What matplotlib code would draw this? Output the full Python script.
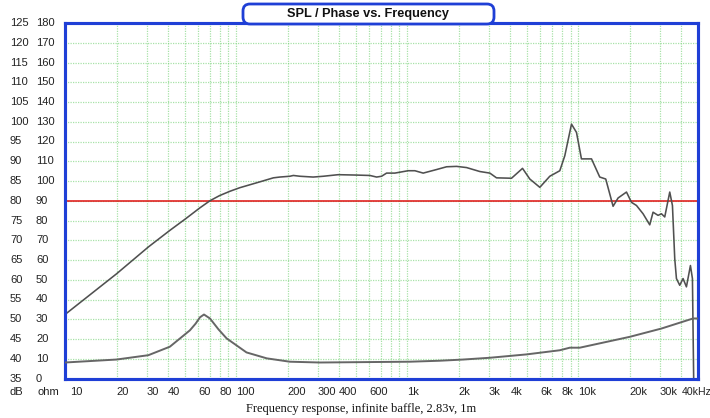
import matplotlib
matplotlib.use("Agg")
import matplotlib.pyplot as plt
import matplotlib.transforms as mtransforms
from matplotlib.patches import FancyBboxPatch

# ---------------- data ----------------
spl_freq = [10, 20, 30.7, 41, 50.9, 61.4, 70.3, 80, 92, 105, 138,
            165, 180, 206, 216, 236, 282, 323, 395, 506, 605,
            662, 708, 757, 846, 1012, 1108, 1239, 1483, 1697, 1941,
            2221, 2655, 3038, 3323, 4067, 4716, 5201, 5951, 6806, 7788,
            8330, 9115, 9748, 10420, 11930, 13330, 14450, 15950, 17060, 19100,
            20430, 21850, 23880, 26120, 27310, 29210, 30580, 31960, 34190, 35450,
            36570, 37410, 39110, 40890, 42790, 45160, 46390, 47200]
spl_db = [51.2, 61.5, 68.3, 72.5, 75.5, 78.2, 80.0, 81.3, 82.4, 83.3, 84.8,
          85.8, 86.0, 86.2, 86.4, 86.2, 86.0, 86.2, 86.6, 86.5, 86.4,
          86.0, 86.2, 87.0, 87.0, 87.6, 87.6, 87.0, 87.9, 88.6, 88.7,
          88.4, 87.4, 87.0, 85.8, 85.7, 88.2, 85.5, 83.4, 86.2, 87.6,
          91.4, 99.4, 97.3, 90.6, 90.6, 86.0, 85.5, 78.6, 80.7, 82.2,
          79.6, 78.8, 76.7, 73.9, 77.1, 76.3, 76.7, 75.9, 82.2, 78.8,
          65.3, 60.3, 58.6, 60.3, 58.2, 63.6, 60.3, 34]

imp_freq = [10, 20, 30.7, 41, 53.7, 58, 61.5, 64.9, 70.3, 79, 88, 115, 151, 206, 308,
            1035, 1550, 2121, 3038, 4976, 7788, 8910, 10190, 19960, 30580, 46800, 50000]
imp_ohm = [8.1, 9.6, 11.8, 16.1, 24.4, 27.8, 31.0, 32.4, 30.4, 24.8, 20.3, 13.2, 10.2, 8.5, 8.1,
           8.5, 9.0, 9.6, 10.5, 12.2, 14.3, 15.6, 15.6, 21.1, 25.3, 30.4, 30.4]

ref_level_db = 80

db_ticks = [125, 120, 115, 110, 105, 100, 95, 90, 85, 80, 75, 70, 65, 60, 55, 50, 45, 40, 35]
ohm_ticks = [180, 170, 160, 150, 140, 130, 120, 110, 100, 90, 80, 70, 60, 50, 40, 30, 20, 10, 0]
x_tick_vals = [10, 20, 30, 40, 60, 80, 100, 200, 300, 400, 600, 1000, 2000, 3000, 4000,
               6000, 8000, 10000, 20000, 30000, 40000]
x_tick_labels = ["10", "20", "30", "40", "60", "80", "100", "200", "300", "400", "600",
                 "1k", "2k", "3k", "4k", "6k", "8k", "10k", "20k", "30k", "40kHz"]
x_grid_vals = [m * d for d in (10, 100, 1000, 10000) for m in range(1, 10)]

title = "SPL / Phase vs. Frequency"
caption = "Frequency response, infinite baffle, 2.83v, 1m"

# ---------------- figure ----------------
W, H, DPI = 710, 418, 100
fig = plt.figure(figsize=(W / DPI, H / DPI), dpi=DPI)
fig.patch.set_facecolor("white")

left, right, top, bottom = 65, 698, 23, 378.5
ax = fig.add_axes([left / W, 1 - bottom / H, (right - left) / W, (bottom - top) / H])
ax.set_xscale("log")
ax.set_xlim(10, 50000)
ax.set_ylim(35, 125)

ax2 = ax.twinx()
ax2.set_ylim(0, 180)
ax2.set_xlim(10, 50000)

grid_color = "#6fcf6f"
for xv in x_grid_vals:
    if 10 < xv < 50000:
        ax.axvline(xv, color=grid_color, lw=0.9, ls=(0, (1, 1)), alpha=0.6, zorder=1)
for yv in db_ticks:
    if 35 < yv < 125:
        ax.axhline(yv, color=grid_color, lw=0.9, ls=(0, (1, 1)), alpha=0.6, zorder=1)

ax.axhline(ref_level_db, color="#e01010", lw=1.1, zorder=2)

curve_color = "#505050"
ax.plot(spl_freq, spl_db, color=curve_color, lw=1.15, zorder=3, solid_joinstyle="round")
ax2.plot(imp_freq, imp_ohm, color="#666666", lw=1.4, zorder=3, solid_joinstyle="round")

for a in (ax, ax2):
    a.tick_params(which="both", length=0, labelleft=False, labelright=False,
                  labelbottom=False)
    a.set_yticks([])
    a.minorticks_off()
ax.set_xticks([])
ax2.set_xticks([])

for a in (ax, ax2):
    for s in a.spines.values():
        s.set_color("#1f3fd6")
        s.set_linewidth(2.2)
ax2.patch.set_visible(False)

font = "Liberation Sans"
fs = 8.0
# y labels (two columns)
tr_db = mtransforms.blended_transform_factory(fig.transFigure, ax.transData)
tr_ohm = mtransforms.blended_transform_factory(fig.transFigure, ax2.transData)
for v in db_ticks:
    fig.text(10 / W, v, str(v), transform=tr_db, ha="left", va="center",
             fontsize=fs, family=font, color="#222222")
for v in ohm_ticks:
    fig.text(36 / W, v, str(v), transform=tr_ohm, ha="left", va="center",
             fontsize=fs, family=font, color="#222222")

# x labels
label_y = 1 - 392 / H
tr_x = mtransforms.blended_transform_factory(ax.transData, fig.transFigure)
for i, (v, lab) in enumerate(zip(x_tick_vals, x_tick_labels)):
    t = tr_x
    if i == 0:
        t = tr_x + mtransforms.ScaledTranslation(5 / DPI, 0, fig.dpi_scale_trans)
    fig.text(v, label_y, lab, transform=t, ha="left", va="center",
             fontsize=fs if i < len(x_tick_vals) - 1 else 7.6, family=font, color="#222222")
fig.text(10 / W, label_y, "dB", ha="left", va="center", fontsize=fs, family=font, color="#222222")
fig.text(37 / W, label_y, "ohm", ha="left", va="center", fontsize=fs, family=font, color="#222222")

# caption
fig.text(361 / W, 1 - 409 / H, caption, ha="center", va="center",
         fontsize=9, family="Liberation Serif", color="#111111")

# title tab
box = FancyBboxPatch((243, H - top - 1), 251, 20, boxstyle="round,pad=0,rounding_size=7",
                     transform=mtransforms.IdentityTransform(), facecolor="white",
                     edgecolor="#1f3fd6", lw=2.0, zorder=10)
fig.add_artist(box)
fig.text(368 / W, 1 - 14 / H, title, ha="center", va="center", fontsize=9.2,
         fontweight="bold", family=font, color="#111111", zorder=11)

fig.savefig("out.png", dpi=DPI, facecolor="white")
